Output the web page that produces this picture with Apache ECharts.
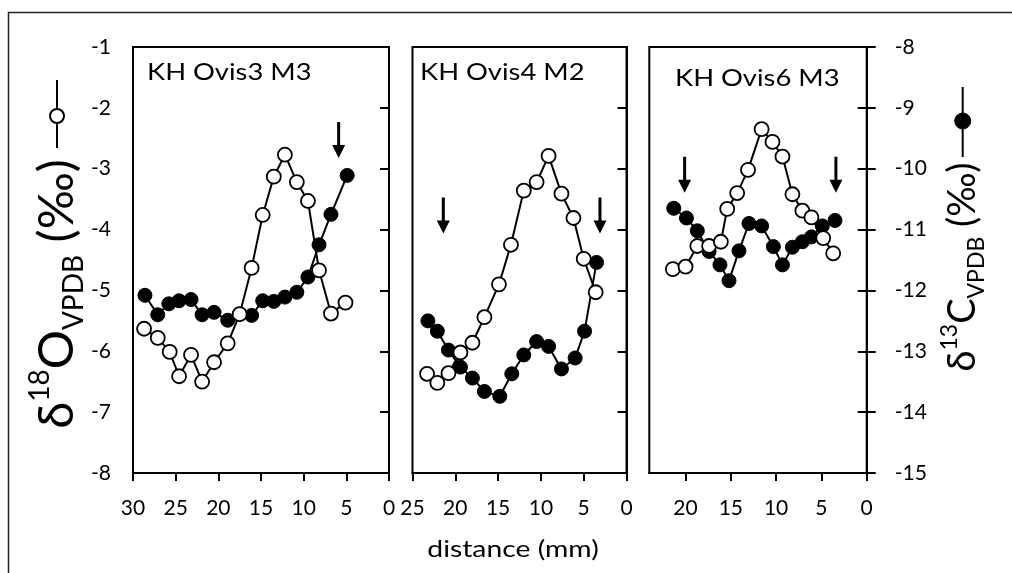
<!DOCTYPE html>
<html>
<head>
<meta charset="utf-8">
<script src="https://cdn.jsdelivr.net/npm/echarts@6/dist/echarts.min.js"></script>
<style>html,body{margin:0;padding:0;background:#fff}#c{width:1012px;height:573px}</style>
</head>
<body>
<div id="c"></div>
<script>
// ---- data (distance in mm, delta values in per mil) ----
const panelTitles = ['KH Ovis3 M3', 'KH Ovis4 M2', 'KH Ovis6 M3'];
const xMax = [30, 25, 24];
const oTicks = [-8, -7, -6, -5, -4, -3, -2, -1];
const cTicks = [-15, -14, -13, -12, -11, -10, -9, -8];

const o1_x = [28.7, 27.1, 25.7, 24.6, 23.2, 21.9, 20.5, 18.9, 17.5, 16.1, 14.8, 13.5, 12.2, 10.8, 9.5, 8.2, 6.8, 5.1];
const o1_y = [-5.63, -5.78, -6.01, -6.41, -6.06, -6.50, -6.18, -5.87, -5.39, -4.63, -3.76, -3.13, -2.77, -3.22, -3.53, -4.67, -5.38, -5.20];
const c1_x = [28.6, 27.1, 25.8, 24.6, 23.2, 21.9, 20.5, 18.9, 17.5, 16.1, 14.8, 13.5, 12.2, 10.8, 9.5, 8.2, 6.8, 4.9];
const c1_y = [-12.08, -12.40, -12.22, -12.17, -12.15, -12.40, -12.36, -12.49, -12.39, -12.41, -12.17, -12.18, -12.11, -12.03, -11.78, -11.25, -10.75, -10.11];

const o2_x = [23.3, 22.1, 20.8, 19.4, 18.0, 16.6, 14.9, 13.5, 12.0, 10.5, 9.1, 7.6, 6.2, 5.0, 3.6];
const o2_y = [-6.37, -6.52, -6.36, -6.02, -5.86, -5.44, -4.90, -4.25, -3.36, -3.22, -2.79, -3.41, -3.81, -4.48, -5.03];
const c2_x = [23.2, 22.1, 20.8, 19.4, 18.0, 16.6, 14.8, 13.4, 12.0, 10.5, 9.1, 7.6, 6.0, 4.9, 3.5];
const c2_y = [-12.50, -12.67, -12.98, -13.26, -13.44, -13.66, -13.74, -13.37, -13.06, -12.84, -12.92, -13.29, -13.11, -12.67, -11.54];

const o3_x = [21.4, 20.0, 18.7, 17.4, 16.1, 15.4, 14.3, 13.1, 11.6, 10.4, 9.3, 8.2, 7.1, 6.1, 4.8, 3.7];
const o3_y = [-4.65, -4.61, -4.27, -4.27, -4.20, -3.66, -3.40, -3.02, -2.35, -2.56, -2.80, -3.42, -3.69, -3.80, -4.14, -4.39];
const c3_x = [21.3, 19.9, 18.7, 17.4, 16.2, 15.2, 14.1, 13.0, 11.6, 10.3, 9.3, 8.2, 7.1, 6.1, 4.9, 3.5];
const c3_y = [-10.65, -10.81, -11.02, -11.36, -11.58, -11.84, -11.35, -10.90, -10.94, -11.28, -11.58, -11.29, -11.20, -11.12, -10.94, -10.85];

// arrow annotations [distance, δ18O-scale position]
const arrows1 = [[5.9, -2.53]];
const arrows2 = [[21.4, -3.77], [3.1, -3.77]];
const arrows3 = [[20.1, -3.10], [3.4, -3.10]];

// ---- chart ----
const F = 'Lato, "Noto Sans", "DejaVu Sans", sans-serif';
const zip = (a, b) => a.map((v, i) => [v, b[i]]);
const oData = [zip(o1_x, o1_y), zip(o2_x, o2_y), zip(o3_x, o3_y)];
const cData = [zip(c1_x, c1_y), zip(c2_x, c2_y), zip(c3_x, c3_y)];
const arrows = [arrows1, arrows2, arrows3];

const grids = [
  { left: 133, top: 47, width: 256, height: 426 },
  { left: 412.5, top: 47, width: 214, height: 426 },
  { left: 649.3, top: 47, width: 217.4, height: 426 }
].map(g => Object.assign(g, { show: true, borderColor: '#000', borderWidth: 2, backgroundColor: '#fff' }));

const axisLine = { show: true, lineStyle: { color: '#000', width: 2 } };
const xAxes = grids.map((g, i) => ({
  type: 'value', gridIndex: i, inverse: true, min: 0, max: xMax[i], interval: 5,
  axisLine: axisLine,
  axisTick: { show: true, inside: false, length: 8, lineStyle: { color: '#000', width: 2 } },
  axisLabel: { show: true, fontSize: 21, fontFamily: F, color: '#000', margin: 25, showMaxLabel: i !== 2 },
  splitLine: { show: false }
}));

const yAxes = [];
grids.forEach((g, i) => {
  yAxes.push({
    type: 'value', gridIndex: i, position: 'left', min: oTicks[0], max: oTicks[oTicks.length - 1], interval: 1,
    axisLine: axisLine,
    axisTick: { show: true, inside: false, length: 9, lineStyle: { color: '#000', width: 2 } },
    axisLabel: { show: i === 0, fontSize: 21, fontFamily: F, color: '#000', margin: 22 },
    splitLine: { show: false }
  });
  yAxes.push({
    type: 'value', gridIndex: i, position: 'right', min: cTicks[0], max: cTicks[cTicks.length - 1], interval: 1,
    axisLine: { show: i === 2, lineStyle: { color: '#000', width: 2 } },
    axisTick: { show: i === 2, inside: false, length: 9, lineStyle: { color: '#000', width: 2 } },
    axisLabel: { show: i === 2, fontSize: 21, fontFamily: F, color: '#000', margin: 28 },
    splitLine: { show: false }
  });
});

const arrowPath = 'path://M5,0 L8,0 L8,23 L13,23 L6.5,36 L0,23 L5,23 Z';
const series = [];
grids.forEach((g, i) => {
  series.push({
    type: 'line', xAxisIndex: i, yAxisIndex: i * 2 + 1, data: cData[i],
    symbol: 'circle', symbolSize: 14, z: 2,
    itemStyle: { color: '#000', borderColor: '#000', borderWidth: 1 },
    lineStyle: { color: '#000', width: 2 }
  });
  series.push({
    type: 'line', xAxisIndex: i, yAxisIndex: i * 2, data: oData[i],
    symbol: 'circle', symbolSize: 14, z: 3,
    itemStyle: { color: '#fff', borderColor: '#000', borderWidth: 1.8 },
    lineStyle: { color: '#000', width: 2 },
    markPoint: {
      symbol: arrowPath, symbolSize: [13, 36], symbolKeepAspect: false,
      itemStyle: { color: '#000' }, label: { show: false }, silent: true,
      data: arrows[i].map(a => ({ coord: a }))
    }
  });
});

const titleStyle = (t) => ({ text: t, font: '24px ' + F, fill: '#000', verticalAlign: 'middle' });
const graphic = [
  { type: 'rect', shape: { x: 8.5, y: 12.5, width: 1100, height: 700 }, style: { fill: 'none', stroke: '#222', lineWidth: 1.5 }, z: -10 },
  { type: 'text', x: 147, y: 72, scaleX: 1.14, style: titleStyle(panelTitles[0]) },
  { type: 'text', x: 420, y: 72, scaleX: 1.14, style: titleStyle(panelTitles[1]) },
  { type: 'text', x: 675, y: 78, scaleX: 1.14, style: titleStyle(panelTitles[2]) },
  { type: 'text', x: 513, y: 549, scaleX: 1.18, style: { text: 'distance (mm)', font: '24px ' + F, fill: '#000', align: 'center', verticalAlign: 'middle' } },
  {
    type: 'text', x: 57, y: 294, rotation: Math.PI / 2,
    style: {
      text: '{m|δ}{sp|18}{m|O}{sb|VPDB}{m| (‰)}', align: 'center', verticalAlign: 'middle',
      rich: {
        m: { fontSize: 49, fontFamily: F, fill: '#000', lineHeight: 62 },
        sp: { fontSize: 28, fontFamily: F, fill: '#000', lineHeight: 46, verticalAlign: 'top' },
        sb: { fontSize: 28, fontFamily: F, fill: '#000', lineHeight: 36, verticalAlign: 'bottom' }
      }
    }
  },
  {
    type: 'text', x: 963, y: 267, rotation: Math.PI / 2,
    style: {
      text: '{m|δ}{sp|13}{m|C}{sb|VPDB}{m| (‰)}', align: 'center', verticalAlign: 'middle',
      rich: {
        m: { fontSize: 38, fontFamily: F, fill: '#000', lineHeight: 50 },
        sp: { fontSize: 23, fontFamily: F, fill: '#000', lineHeight: 38, verticalAlign: 'top' },
        sb: { fontSize: 23, fontFamily: F, fill: '#000', lineHeight: 29, verticalAlign: 'bottom' }
      }
    }
  },
  { type: 'line', shape: { x1: 57, y1: 80, x2: 57, y2: 148 }, style: { stroke: '#000', lineWidth: 2 } },
  { type: 'circle', shape: { cx: 57, cy: 116, r: 7 }, style: { fill: '#fff', stroke: '#000', lineWidth: 2 } },
  { type: 'line', shape: { x1: 962.7, y1: 87, x2: 962.7, y2: 157 }, style: { stroke: '#000', lineWidth: 2 } },
  { type: 'circle', shape: { cx: 962.7, cy: 121, r: 8 }, style: { fill: '#000', stroke: '#000', lineWidth: 1 } }
];

const chart = echarts.init(document.getElementById('c'), null, { renderer: 'canvas' });
chart.setOption({
  animation: false,
  backgroundColor: '#fff',
  grid: grids,
  xAxis: xAxes,
  yAxis: yAxes,
  series: series,
  graphic: graphic
});
</script>
</body>
</html>
